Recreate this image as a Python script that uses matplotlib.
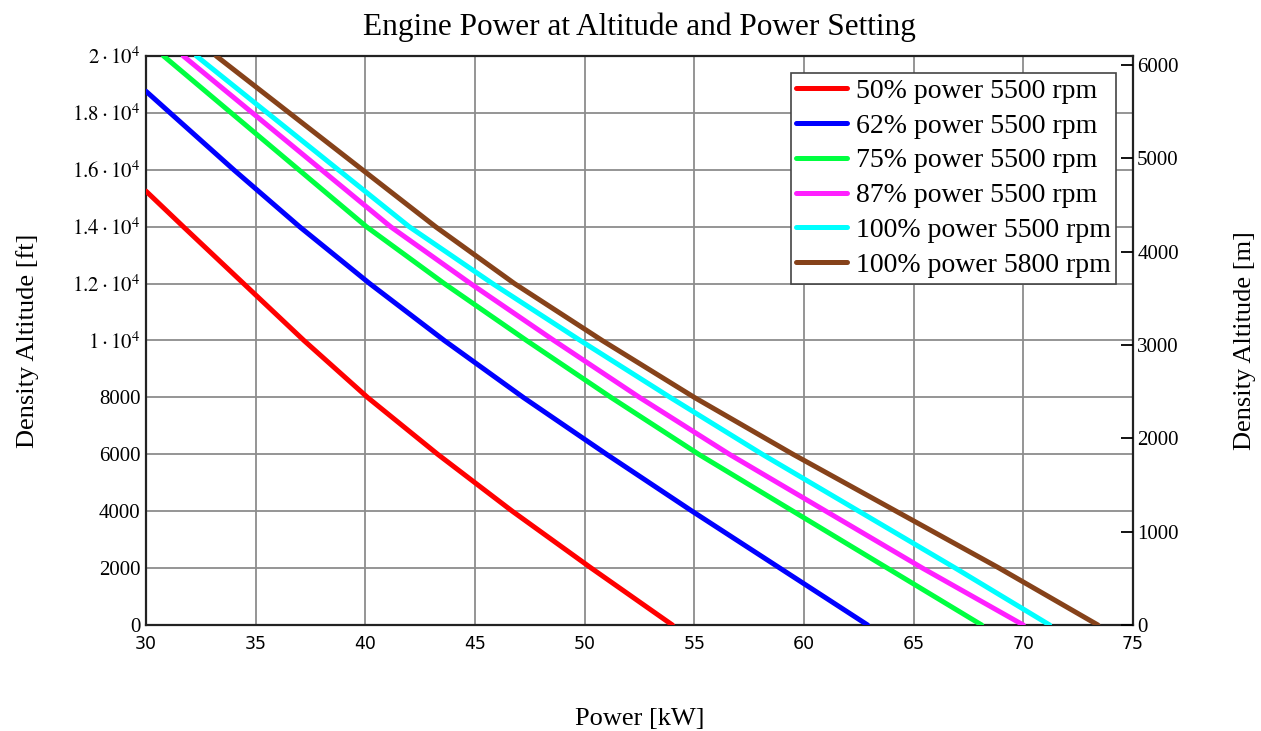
import numpy as np
import matplotlib
matplotlib.use("Agg")
import matplotlib.pyplot as plt

plt.rcParams['font.family'] = ['Liberation Serif', 'DejaVu Serif']
plt.rcParams['mathtext.fontset'] = 'stix'

# density altitude levels [ft] (top point differs for the two low settings)
alt_red = [15250, 14000, 12000, 10000, 8000, 6000, 4000, 2000, 0]
alt_blue = [18760, 18000, 16000, 14000, 12000, 10000, 8000, 6000, 4000, 2000, 0]
alt_std = [20000, 14000, 12000, 10000, 8000, 6000, 4000, 2000, 0]

# engine power [kW] at each altitude level
p50_5500 = [30.0, 31.7, 34.45, 37.2, 40.1, 43.3, 46.7, 50.3, 54.0]
p62_5500 = [30.0, 31.1, 34.0, 37.0, 40.2, 43.6, 47.2, 51.0, 54.9, 58.9, 62.9]
p75_5500 = [30.8, 40.05, 43.6, 47.35, 51.2, 55.2, 59.5, 63.8, 68.1]
p87_5500 = [31.7, 41.15, 44.8, 48.6, 52.5, 56.6, 61.0, 65.4, 70.0]
p100_5500 = [32.3, 42.0, 45.8, 49.8, 53.9, 58.1, 62.5, 66.9, 71.2]
p100_5800 = [33.2, 43.2, 46.8, 50.8, 55.0, 59.5, 64.2, 68.9, 73.4]

labels = ['50% power 5500 rpm', '62% power 5500 rpm', '75% power 5500 rpm',
          '87% power 5500 rpm', '100% power 5500 rpm', '100% power 5800 rpm']
colors = ['#FF0000', '#0000FF', '#00FF40', '#FF20FF', '#00FFFF', '#86421A']

yticks_ft = [0, 2000, 4000, 6000, 8000, 10000, 12000, 14000, 16000, 18000, 20000]
ytick_labels = ['0', '2000', '4000', '6000', '8000', r'$1\cdot10^{4}$', r'$1.2\cdot10^{4}$',
                r'$1.4\cdot10^{4}$', r'$1.6\cdot10^{4}$', r'$1.8\cdot10^{4}$', r'$2\cdot10^{4}$']
xticks = [30, 35, 40, 45, 50, 55, 60, 65, 70, 75]
yticks_m = [0, 1000, 2000, 3000, 4000, 5000, 6000]

fig = plt.figure(figsize=(12.61, 7.31), dpi=100)
ax = fig.add_axes([0.1158, 0.145, 0.7827, 0.7784])

series = [(p50_5500, alt_red), (p62_5500, alt_blue), (p75_5500, alt_std),
          (p87_5500, alt_std), (p100_5500, alt_std), (p100_5800, alt_std)]
for (pw, alt), lab, c in zip(series, labels, colors):
    ax.plot(pw, alt, color=c, lw=3.6, label=lab, solid_capstyle='round',
            solid_joinstyle='round', zorder=3)

ax.set_xlim(30, 75)
ax.set_ylim(0, 20000)
ax.set_xticks(xticks)
ax.set_xticklabels([str(v) for v in xticks], family='DejaVu Sans', fontsize=12.5)
ax.set_yticks(yticks_ft)
ax.set_yticklabels(ytick_labels, fontsize=15)
ax.tick_params(axis='both', length=0)
ax.tick_params(axis='x', pad=7)
ax.tick_params(axis='y', pad=4)
ax.grid(True, color='#8c8c8c', lw=1.3)
for s in ax.spines.values():
    s.set_linewidth(1.6)
    s.set_color('#222222')

ax.set_title('Engine Power at Altitude and Power Setting', fontsize=22.5, pad=15)
ax.set_xlabel('Power [kW]', fontsize=19, labelpad=40)
ax.set_ylabel('Density Altitude [ft]', fontsize=19, labelpad=24)

# metric altitude scale on the right
ax2 = ax.twinx()
ax2.set_ylim(0, 20000 * 0.3048)
ax2.set_yticks(yticks_m)
ax2.set_yticklabels([str(v) for v in yticks_m], fontsize=15)
ax2.tick_params(axis='y', direction='in', length=8.5, width=1.3, pad=3)
ax2.set_ylabel('Density Altitude [m]', fontsize=19, labelpad=40)
for s in ax2.spines.values():
    s.set_visible(False)

leg = ax.legend(loc='upper right', fontsize=20, handlelength=1.85, handletextpad=0.3,
                labelspacing=0.34, borderaxespad=0.6, borderpad=0.2,
                fancybox=False, framealpha=1, edgecolor='#444444')
leg.get_frame().set_linewidth(1.2)
leg.set_zorder(5)

fig.savefig('out.png', dpi=100)
